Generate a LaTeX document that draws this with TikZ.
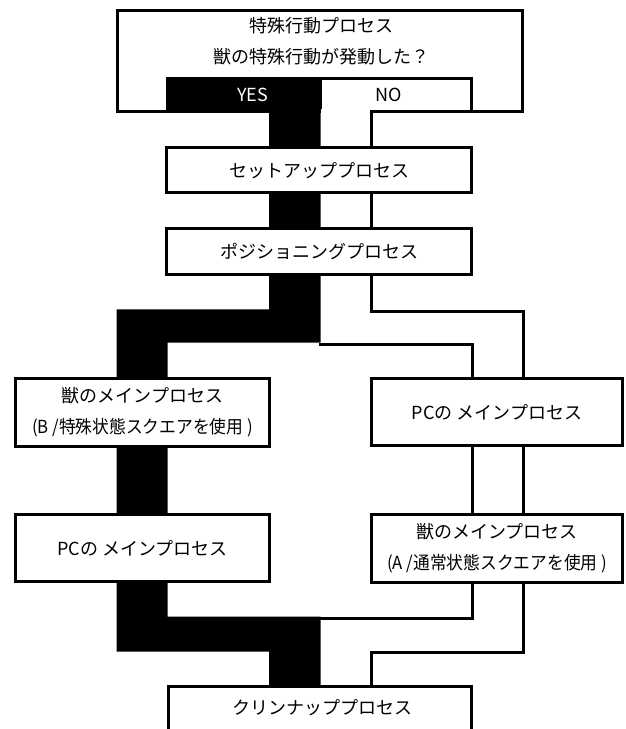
\documentclass[tikz,border=0pt]{standalone}
\usepackage{fontspec}
\setmainfont{Noto Sans CJK JP}
\newfontfamily\narrowjp[FakeStretch=0.93]{Noto Sans CJK JP}
\begin{document}
\begin{tikzpicture}[x=1pt,y=-1pt,
  box/.style={draw, line width=3pt, fill=white, outer sep=0pt, inner sep=0pt,
    align=center, font=\fontsize{18}{31}\selectfont},
  lbl/.style={inner sep=0pt, outer sep=0pt, align=center, font=\fontsize{18}{31}\selectfont},
  edgeline/.style={line width=3pt},
  yesband/.style={fill=black},
  noband/.style={fill=white}]
\useasboundingbox (0,0) rectangle (625,729);
\clip (0,0) rectangle (625,729);
% top decision box
\node[box, minimum width=405.2pt, minimum height=100.5pt] (top) at (319.9,61.05) {};
\node[box, minimum width=150.8pt, minimum height=32.6pt] (no) at (395.9,95) {};
\node[fill=black, inner sep=0pt, outer sep=0pt, minimum width=154.7pt, minimum height=35.5pt] (yes) at (243.35,95.05) {};
\node[lbl] (toptext) at (321,41) {特殊行動プロセス\\獣の特殊行動が発動した？};
\node[lbl, text=white] (yestext) at (252.5,95) {YES};
\node[lbl] (notext) at (388.5,95) {NO};
% YES band (black)
\fill[yesband] (269,100) -- (320.7,100) -- (320.7,342.7) -- (167.7,342.7) -- (167.7,616.7)
  -- (320.7,616.7) -- (320.7,740) -- (269,740) -- (269,651.7) -- (116.7,651.7)
  -- (116.7,309.3) -- (269,309.3) -- cycle;
% NO band (white with outline)
\fill[noband] (321,109.3) rectangle (370.2,140);
\draw[edgeline] (371.7,111.3) -- (371.7,311) -- (523,311) -- (523,378.3);
\draw[edgeline] (319,344.3) -- (472,344.3) -- (472,378.3);
\draw[edgeline] (472,445.7) -- (472,514);
\draw[edgeline] (523,445.7) -- (523,514);
\draw[edgeline] (472,582.3) -- (472,618.3) -- (319,618.3);
\draw[edgeline] (523,582.3) -- (523,652.3) -- (371.7,652.3) -- (371.7,686.7);
% process boxes
\node[box, minimum width=305pt, minimum height=45pt] (setup) at (319.25,170.2) {セットアッププロセス};
\node[box, minimum width=305pt, minimum height=45.7pt] (pos) at (319.25,251.2) {ポジショニングプロセス};
\node[box, minimum width=253.5pt, minimum height=68.4pt] (beastB) at (142.45,412.5) {獣のメインプロセス\\{\narrowjp (B /特殊状態スクエアを使用 )}};
\node[box, minimum width=250.8pt, minimum height=67.4pt] (pcR) at (497.1,412) {PCの メインプロセス};
\node[box, minimum width=250.8pt, minimum height=68.3pt] (beastA) at (497.1,548.2) {獣のメインプロセス\\{\narrowjp (A /通常状態スクエアを使用 )}};
\node[box, minimum width=253.5pt, minimum height=66.7pt] (pcL) at (142.45,548.3) {PCの メインプロセス};
\node[box, minimum width=303.4pt, minimum height=80pt] (clean) at (320,726.7) {};
\node[lbl] (cleantext) at (322,708) {クリンナッププロセス};
\end{tikzpicture}
\end{document}
